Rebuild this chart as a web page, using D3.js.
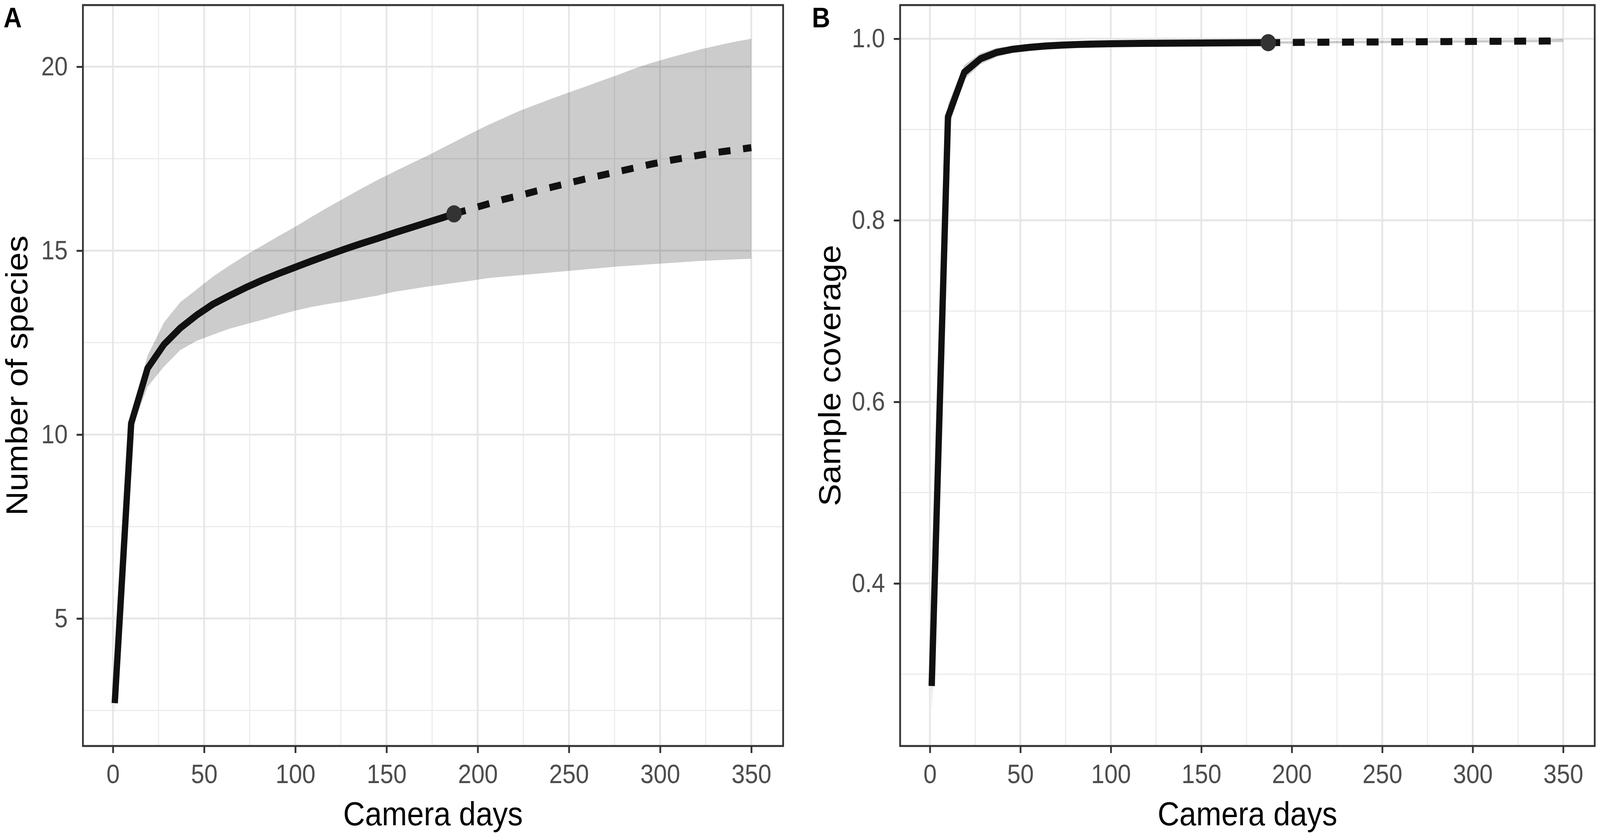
<!DOCTYPE html>
<html>
<head>
<meta charset="utf-8">
<script src="https://cdn.jsdelivr.net/npm/d3@7"></script>
<style>
  html, body { margin: 0; padding: 0; background: #fff; overflow: hidden; }
  svg { display: block; width: 100vw; height: 100vh; }
  text { font-family: "Liberation Sans", Arial, sans-serif; }
</style>
</head>
<body>
<script>
// sampling knots (camera days), reference sample at 187
const days = [1, 10, 19, 28, 37, 46, 55, 64, 73, 82, 91, 100, 109, 118, 127, 136, 145, 154, 163, 172, 181, 187,
  196, 205, 214, 223, 232, 241, 250, 259, 268, 277, 286, 295, 304, 313, 322, 331, 340, 350]
const refDays = 187

const richness = [2.7, 10.3, 11.8, 12.45, 12.9, 13.25, 13.55, 13.78, 14.0, 14.2, 14.38, 14.55, 14.72, 14.88, 15.04, 15.19, 15.33, 15.48, 15.62, 15.76, 15.9, 16.0,
  16.13, 16.26, 16.39, 16.5, 16.62, 16.73, 16.84, 16.95, 17.05, 17.15, 17.25, 17.35, 17.44, 17.52, 17.6, 17.67, 17.73, 17.8]
const richnessLo = [2.45, 10.1, 11.3, 11.85, 12.3, 12.55, 12.72, 12.88, 13.0, 13.12, 13.25, 13.37, 13.47, 13.55, 13.62, 13.7, 13.78, 13.88, 13.95, 14.02, 14.08, 14.12,
  14.18, 14.25, 14.29, 14.33, 14.37, 14.41, 14.45, 14.49, 14.53, 14.57, 14.6, 14.63, 14.66, 14.69, 14.72, 14.74, 14.76, 14.78]
const richnessHi = [2.95, 10.5, 12.15, 13.05, 13.6, 13.95, 14.3, 14.6, 14.88, 15.14, 15.4, 15.65, 15.92, 16.18, 16.43, 16.68, 16.92, 17.14, 17.36, 17.57, 17.8, 17.95,
  18.18, 18.4, 18.6, 18.8, 18.97, 19.14, 19.3, 19.46, 19.62, 19.78, 19.95, 20.1, 20.23, 20.35, 20.47, 20.57, 20.67, 20.76]

const coverage = [0.287, 0.914, 0.963, 0.978, 0.985, 0.9885, 0.9905, 0.992, 0.993, 0.9937, 0.9942, 0.9945, 0.9947, 0.9949, 0.995, 0.9952, 0.9953, 0.9954, 0.9955, 0.9956, 0.9957, 0.9957,
  0.9959, 0.996, 0.9961, 0.9962, 0.9963, 0.9964, 0.9965, 0.9966, 0.9967, 0.9968, 0.9969, 0.997, 0.9971, 0.9972, 0.9973, 0.9974, 0.9975, 0.9976]
const coverageLo = [0.258, 0.9, 0.955, 0.972, 0.98, 0.985, 0.988, 0.99, 0.991, 0.992, 0.9925, 0.993, 0.9932, 0.9934, 0.9936, 0.9938, 0.994, 0.9941, 0.9942, 0.9943, 0.9944, 0.9945,
  0.9946, 0.9947, 0.9948, 0.9949, 0.995, 0.9951, 0.9952, 0.9953, 0.9954, 0.9955, 0.9956, 0.9957, 0.9958, 0.9959, 0.996, 0.9961, 0.9962, 0.9963]
const coverageHi = [0.316, 0.928, 0.971, 0.984, 0.99, 0.992, 0.993, 0.994, 0.995, 0.9954, 0.9959, 0.996, 0.9962, 0.9964, 0.9964, 0.9966, 0.9966, 0.9967, 0.9968, 0.9969, 0.997, 0.9969,
  0.9972, 0.9973, 0.9974, 0.9975, 0.9976, 0.9977, 0.9978, 0.9979, 0.998, 0.9981, 0.9982, 0.9983, 0.9984, 0.9985, 0.9986, 0.9987, 0.9988, 1.0]

const xTicks = [0, 50, 100, 150, 200, 250, 300, 350]
const xMinor = [25, 75, 125, 175, 225, 275, 325]
const richnessTicks = [5, 10, 15, 20]
const richnessMinor = [2.5, 7.5, 12.5, 17.5]
const coverageTicks = [0.4, 0.6, 0.8, 1.0]
const coverageMinor = [0.3, 0.5, 0.7, 0.9]

const W = 4554, H = 2143

// drawn in a fixed 4554x2143 coordinate box, stretched to fill the window
const svg = d3.select('body').append('svg')
  .attr('viewBox', `0 0 ${W} ${H}`)
  .attr('preserveAspectRatio', 'none')

// ggplot-style 5% expansion
const expand = ([a, b]) => [a - 0.05 * (b - a), b + 0.05 * (b - a)]

function drawPanel(p) {
  const x = d3.scaleLinear().domain(expand(d3.extent(days))).range([p.left, p.right])
  const y = d3.scaleLinear().domain(expand([d3.min(p.lo), d3.max(p.hi)])).range([p.bottom, p.top])

  const g = svg.append('g')

  // grid
  g.selectAll('line.minor-x').data(xMinor).enter().append('line')
    .attr('x1', d => x(d)).attr('x2', d => x(d))
    .attr('y1', p.top).attr('y2', p.bottom)
    .attr('stroke', '#ebebeb').attr('stroke-width', 3)
  g.selectAll('line.minor-y').data(p.minor).enter().append('line')
    .attr('y1', d => y(d)).attr('y2', d => y(d))
    .attr('x1', p.left).attr('x2', p.right)
    .attr('stroke', '#ebebeb').attr('stroke-width', 3)
  g.selectAll('line.major-x').data(xTicks).enter().append('line')
    .attr('x1', d => x(d)).attr('x2', d => x(d))
    .attr('y1', p.top).attr('y2', p.bottom)
    .attr('stroke', '#e6e6e6').attr('stroke-width', 5)
  g.selectAll('line.major-y').data(p.ticks).enter().append('line')
    .attr('y1', d => y(d)).attr('y2', d => y(d))
    .attr('x1', p.left).attr('x2', p.right)
    .attr('stroke', '#e6e6e6').attr('stroke-width', 5)

  const rows = days.map((d, i) => ({ x: d, y: p.est[i], lo: p.lo[i], hi: p.hi[i] }))

  // confidence band
  g.append('path')
    .datum(rows)
    .attr('fill', '#000')
    .attr('fill-opacity', 0.2)
    .attr('d', d3.area().x(d => x(d.x)).y0(d => y(d.lo)).y1(d => y(d.hi)))

  const line = d3.line().x(d => x(d.x)).y(d => y(d.y))

  // rarefaction (solid) and extrapolation (dashed)
  g.append('path')
    .datum(rows.filter(d => d.x <= refDays))
    .attr('fill', 'none').attr('stroke', '#111').attr('stroke-width', 18)
    .attr('stroke-linejoin', 'round')
    .attr('d', line)
  g.append('path')
    .datum(rows.filter(d => d.x >= refDays))
    .attr('fill', 'none').attr('stroke', '#111').attr('stroke-width', 18)
    .attr('stroke-dasharray', '34,36')
    .attr('d', line)

  const ref = rows.find(d => d.x === refDays)
  g.append('circle')
    .attr('cx', x(ref.x)).attr('cy', y(ref.y)).attr('r', 22)
    .attr('fill', '#333')

  // panel border
  g.append('rect')
    .attr('x', p.left).attr('y', p.top)
    .attr('width', p.right - p.left).attr('height', p.bottom - p.top)
    .attr('fill', 'none').attr('stroke', '#333').attr('stroke-width', 5)

  // axes
  const xAxis = g.append('g')
    .attr('transform', `translate(0,${p.bottom})`)
    .call(d3.axisBottom(x).tickValues(xTicks).tickSize(18).tickPadding(29))
  const yAxis = g.append('g')
    .attr('transform', `translate(${p.left},0)`)
    .call(d3.axisLeft(y).tickValues(p.ticks).tickFormat(p.fmt).tickSize(18).tickPadding(25))
  for (const a of [xAxis, yAxis]) {
    a.select('.domain').remove()
    a.selectAll('.tick line').attr('stroke', '#333').attr('stroke-width', 5)
    a.selectAll('.tick text')
      .attr('fill', '#4d4d4d')
      .style('font-family', '"Liberation Sans", Arial, sans-serif')
      .style('font-size', '68px')
  }

  // titles
  g.append('text')
    .attr('x', (p.left + p.right) / 2).attr('y', 2113)
    .attr('text-anchor', 'middle')
    .style('font-size', '86px')
    .text('Camera days')
  g.append('text')
    .attr('transform', `translate(${p.titleX},${(p.top + p.bottom) / 2}) rotate(-90)`)
    .attr('text-anchor', 'middle')
    .style('font-size', '86px')
    .text(p.title)

  g.append('text')
    .attr('x', p.tagX).attr('y', 70)
    .style('font-size', '72px').style('font-weight', 'bold')
    .text(p.tag)
}

drawPanel({
  left: 236, right: 2229, top: 13, bottom: 1910,
  est: richness, lo: richnessLo, hi: richnessHi,
  ticks: richnessTicks, minor: richnessMinor, fmt: d3.format('d'),
  title: 'Number of species', titleX: 78, tag: 'A', tagX: 10
})

drawPanel({
  left: 2562, right: 4539, top: 13, bottom: 1910,
  est: coverage, lo: coverageLo, hi: coverageHi,
  ticks: coverageTicks, minor: coverageMinor, fmt: d3.format('.1f'),
  title: 'Sample coverage', titleX: 2392, tag: 'B', tagX: 2311
})
</script>
</body>
</html>
